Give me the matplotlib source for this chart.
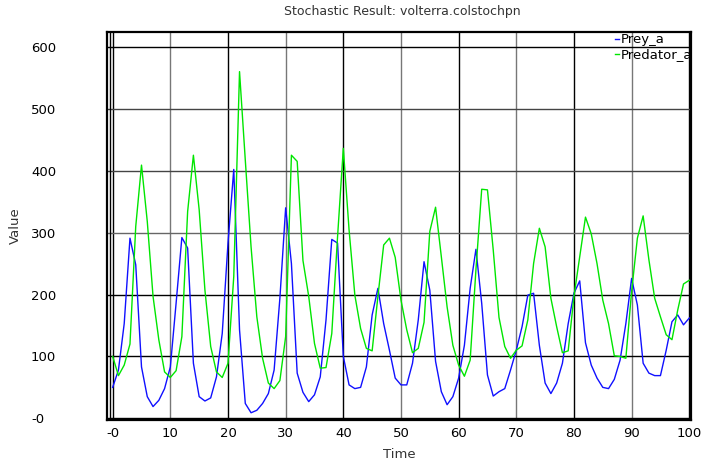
import matplotlib
matplotlib.use("Agg")
import matplotlib.pyplot as plt
import numpy as np

time = list(range(0, 101))

prey_a = [50, 78, 153, 291, 248, 83, 35, 19, 29, 48,
          83, 186, 292, 275, 89, 35, 28, 33, 67, 137,
          283, 402, 143, 24, 9, 13, 24, 40, 78, 194,
          340, 250, 73, 42, 27, 38, 67, 159, 289, 283,
          100, 54, 48, 50, 83, 167, 210, 153, 110, 65,
          54, 54, 89, 159, 253, 207, 92, 43, 22, 35,
          65, 118, 210, 273, 186, 70, 36, 43, 48, 78,
          110, 148, 199, 202, 118, 57, 40, 57, 89, 153,
          202, 222, 122, 86, 65, 50, 48, 63, 94, 153,
          226, 183, 89, 73, 69, 69, 110, 156, 167, 151,
          162]

predator_a = [100, 69, 86, 120, 310, 409, 318, 197, 127, 75,
              66, 77, 132, 334, 425, 337, 207, 116, 75, 66,
              89, 229, 560, 417, 277, 164, 97, 57, 48, 61,
              132, 425, 415, 255, 197, 121, 81, 82, 137, 293,
              436, 304, 199, 145, 113, 109, 197, 280, 291, 260,
              191, 143, 106, 113, 155, 302, 341, 261, 180, 118,
              86, 68, 94, 240, 370, 369, 272, 163, 116, 97,
              110, 117, 159, 250, 307, 277, 194, 148, 106, 109,
              197, 261, 325, 298, 250, 191, 153, 101, 100, 97,
              205, 291, 327, 256, 194, 164, 135, 127, 175, 217,
              223]

x_ticks = [0, 10, 20, 30, 40, 50, 60, 70, 80, 90, 100]
x_tick_labels = ["-0", "10", "20", "30", "40", "50", "60", "70", "80", "90", "100"]
y_ticks = [0, 100, 200, 300, 400, 500, 600]
y_tick_labels = ["-0", "100", "200", "300", "400", "500", "600"]

W, H = 705, 463
fig = plt.figure(figsize=(W / 100, H / 100), dpi=100)
L, R, T, B = 107.2, 691, 32, 420
ax = fig.add_axes([L / W, 1 - B / H, (R - L) / W, (B - T) / H])

ax.set_xlim(-0.95, 100.3)
ax.set_ylim(-2.7, 624.0)

# grid lines
vcols = ["#000000", "#777777"]
for i, xt in enumerate(x_ticks):
    ax.axvline(xt, color=vcols[i % 2], lw=1, zorder=1)
hcols = {0: "#000000", 100: "#000000", 200: "#000000", 300: "#666666",
         400: "#444444", 500: "#444444", 600: "#000000"}
for yt in y_ticks:
    ax.axhline(yt, color=hcols[yt], lw=1, zorder=1)
# inner frame line on the left (double border look)
ax.axvline(-0.55, color="#000000", lw=1, zorder=1)

ax.plot(time, prey_a, color="#1010ff", lw=1.0, label="Prey_a", zorder=3)
ax.plot(time, predator_a, color="#00e600", lw=1.0, label="Predator_a", zorder=3)

ax.set_xticks(x_ticks)
ax.set_xticklabels(x_tick_labels)
ax.set_yticks(y_ticks)
ax.set_yticklabels(y_tick_labels)
ax.tick_params(axis="both", length=0, labelsize=9.5, colors="#000000")
ax.tick_params(axis="x", pad=5)
ax.tick_params(axis="y", pad=(L - 31) * 0.72)
for lab in ax.get_yticklabels():
    lab.set_horizontalalignment("left")

for s in ax.spines.values():
    s.set_linewidth(1.6)
    s.set_color("#000000")

fig.text(399 / W, 1 - 455 / H, "Time", ha="center", va="center",
         fontsize=9.5, color="#333333")
fig.text(15 / W, 1 - 226 / H, "Value", ha="center", va="center",
         rotation=90, fontsize=9.5, color="#333333")
fig.text(402 / W, 1 - 12 / H, "Stochastic Result: volterra.colstochpn",
         ha="center", va="center", fontsize=9, color="#333333")

leg = ax.legend(loc="upper left", bbox_to_anchor=((614 - L) / (R - L), 1.0),
                frameon=False, handlelength=0.3, handletextpad=0.1,
                borderaxespad=0.0, borderpad=0.1, labelspacing=0.15, fontsize=9.5)
for t in leg.get_texts():
    t.set_clip_on(True)

fig.savefig("out.png", dpi=100)
